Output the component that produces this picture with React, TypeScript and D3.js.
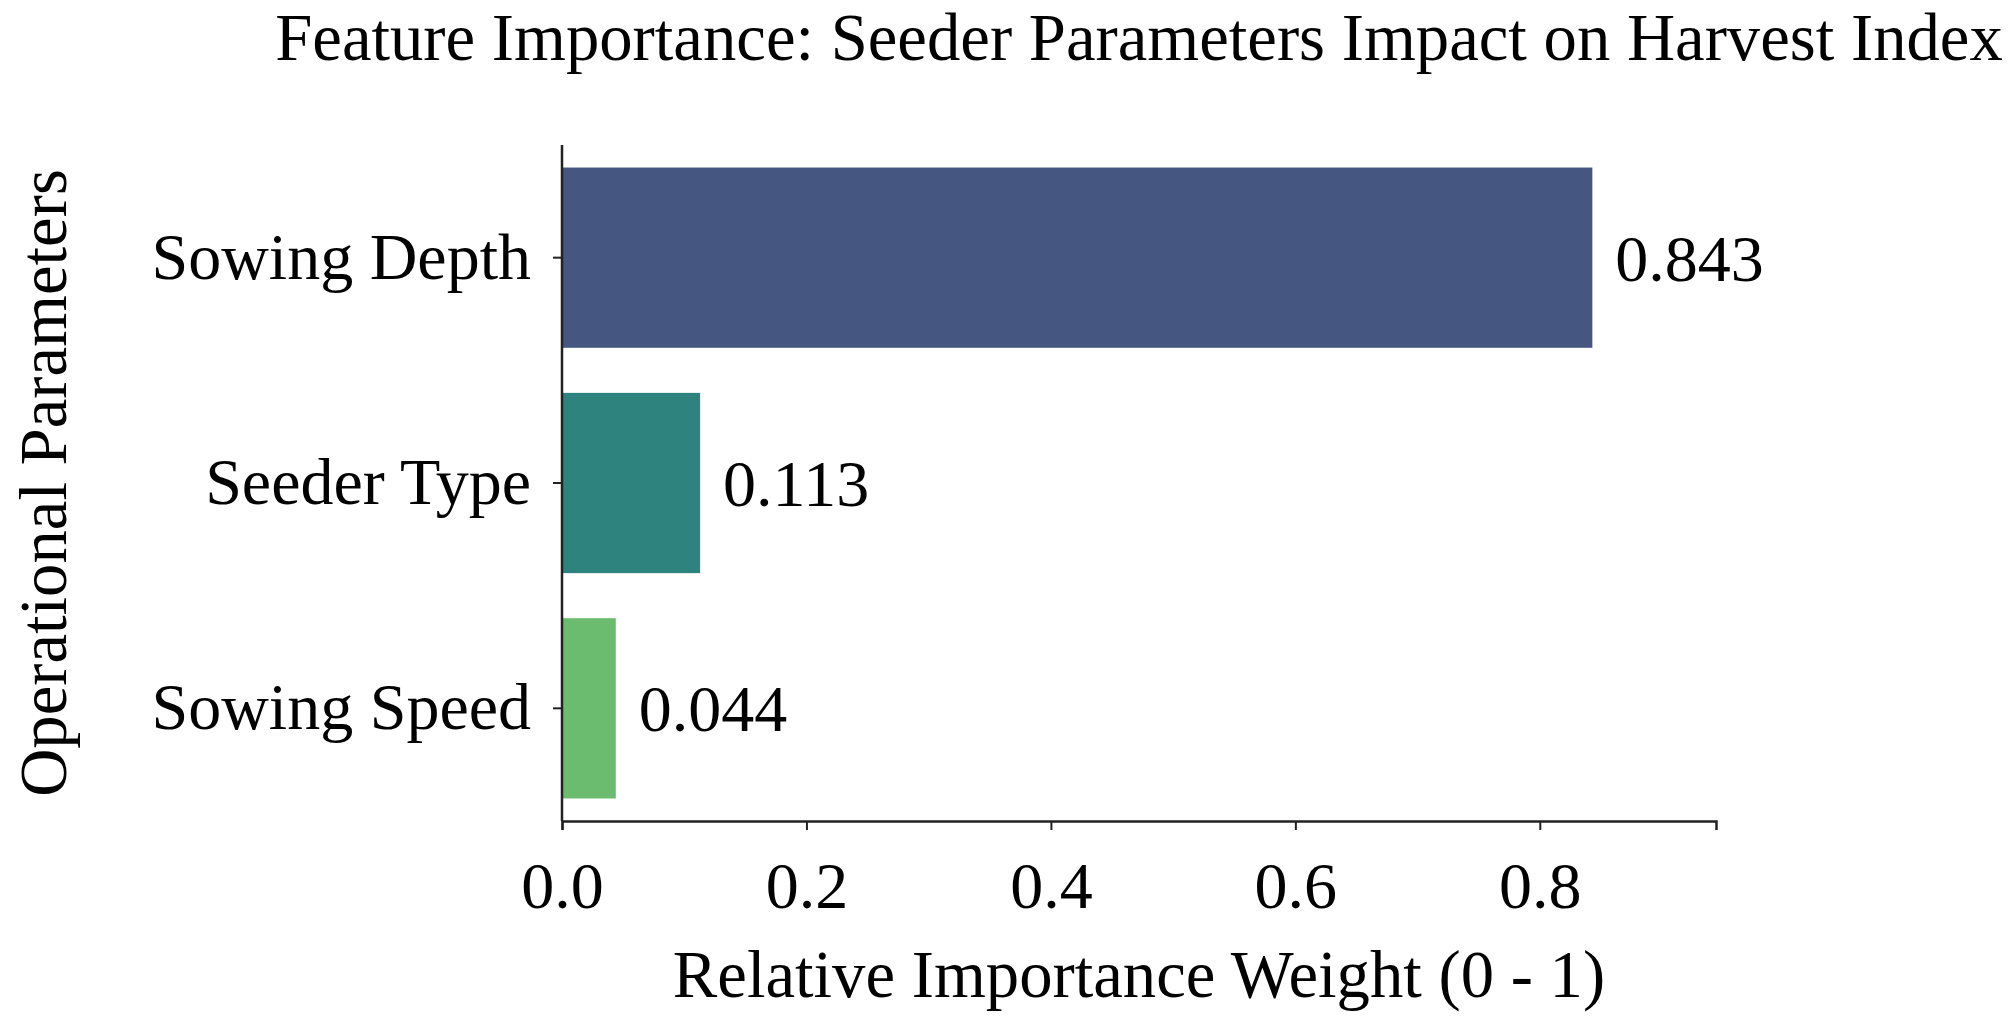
import { useRef, useEffect } from "react";
import * as d3 from "d3";

const features = ["Sowing Depth", "Seeder Type", "Sowing Speed"];
const importance = [0.843, 0.113, 0.044];
const barColors = ["#455681", "#2f837f", "#6bbc6e"];
const xTicks = [0, 0.2, 0.4, 0.6, 0.8];

const W = 2008;
const H = 1017;
const FONT = "'Liberation Serif', 'Times New Roman', serif";
const TICK_FS = 66;
const LABEL_FS = 66.7;

export default function App() {
  const svgRef = useRef<SVGSVGElement>(null);

  useEffect(() => {
    if (!svgRef.current) return;
    document.body.style.margin = "0";
    const svg = d3.select(svgRef.current);
    svg.selectAll("*").remove();

    const margin = { top: 145, right: 292, bottom: 196, left: 562 };
    const width = W - margin.left - margin.right;
    const height = H - margin.top - margin.bottom;

    const g = svg.append("g").attr("transform", `translate(${margin.left},${margin.top})`);

    const xMax = d3.max(importance)! * 1.12;
    const x = d3.scaleLinear().domain([0, xMax]).range([0, width]);
    const y = d3.scaleBand().domain(features).range([0, height]).paddingInner(0.2).paddingOuter(0.1);

    g.selectAll(".bar").data(features).enter().append("rect")
      .attr("x", 0)
      .attr("y", d => y(d)!)
      .attr("width", (_, i) => x(importance[i]))
      .attr("height", y.bandwidth())
      .attr("fill", (_, i) => barColors[i]);

    g.selectAll(".val").data(features).enter().append("text")
      .attr("x", (_, i) => x(importance[i]) + 23)
      .attr("y", d => y(d)! + y.bandwidth() / 2)
      .attr("dy", "0.35em")
      .attr("font-family", FONT).attr("font-size", TICK_FS).attr("fill", "#000")
      .text((_, i) => importance[i].toFixed(3));

    g.append("g").attr("transform", `translate(0,${height})`)
      .call(d3.axisBottom(x).tickValues(xTicks).tickSize(9).tickPadding(0).tickFormat(d => (d as number).toFixed(1)))
      .call(a => {
        a.select(".domain").attr("stroke", "#222").attr("stroke-width", 2.5);
        a.selectAll(".tick line").attr("stroke", "#222").attr("stroke-width", 2);
        a.selectAll("text").attr("font-family", FONT).attr("font-size", TICK_FS).attr("fill", "#000")
          .attr("y", 87).attr("dy", 0);
      });

    g.append("g")
      .call(d3.axisLeft(y).tickSize(9).tickPadding(22))
      .call(a => {
        a.select(".domain").attr("stroke", "#222").attr("stroke-width", 2.5)
          .attr("d", `M0,0V${height}`);
        a.selectAll(".tick line").attr("stroke", "#222").attr("stroke-width", 2);
        a.selectAll("text").attr("font-family", FONT).attr("font-size", TICK_FS).attr("fill", "#000");
      });

    svg.append("text")
      .attr("x", margin.left + width / 2).attr("y", 60)
      .attr("text-anchor", "middle")
      .attr("font-family", FONT).attr("font-size", LABEL_FS).attr("fill", "#000")
      .text("Feature Importance: Seeder Parameters Impact on Harvest Index");

    svg.append("text")
      .attr("x", margin.left + width / 2).attr("y", 997)
      .attr("text-anchor", "middle")
      .attr("font-family", FONT).attr("font-size", LABEL_FS).attr("fill", "#000")
      .text("Relative Importance Weight (0 - 1)");

    svg.append("text")
      .attr("transform", `translate(66,${margin.top + height / 2}) rotate(-90)`)
      .attr("text-anchor", "middle")
      .attr("font-family", FONT).attr("font-size", LABEL_FS).attr("fill", "#000")
      .text("Operational Parameters");
  }, []);

  return (
    <svg ref={svgRef} width={W} height={H} style={{ position: "absolute", left: 0, top: 0, background: "#fff" }} />
  );
}
